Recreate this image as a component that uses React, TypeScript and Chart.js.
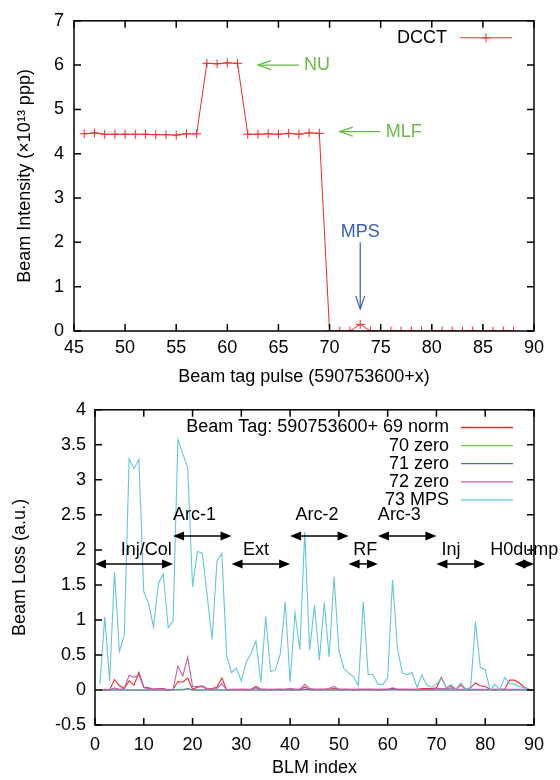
import React, { useEffect, useRef } from "react";
import { Chart, registerables } from "chart.js";
Chart.register(...registerables);

const FONT = "'Liberation Sans', Arial, Helvetica, sans-serif";

// ---------- Top chart data ----------
const pulses = [46, 47, 48, 49, 50, 51, 52, 53, 54, 55, 56, 57, 58, 59, 60, 61, 62, 63, 64, 65, 66, 67, 68, 69,
  70, 71, 72, 73, 74, 75, 76, 77, 78, 79, 80, 81, 82, 83, 84, 85, 86, 87, 88];
const dcct = [4.45, 4.47, 4.44, 4.44, 4.44, 4.44, 4.44, 4.43, 4.43, 4.42, 4.45, 4.45, 6.04, 6.03, 6.05, 6.04,
  4.44, 4.44, 4.45, 4.44, 4.46, 4.44, 4.47, 4.46,
  0, 0, 0, 0.15, 0, 0, 0, 0, 0, 0, 0, 0, 0, 0, 0, 0, 0, 0, 0];

const topNoteText = ["NU", "MLF", "MPS"];
const topNoteX = [67.5, 75.5, 73];
const topNoteY = [6.0, 4.5, 2.23];
const topNoteAlign = ["left", "left", "center"];
const topNoteColor = ["#66bb44", "#66bb44", "#3a5cb8"];
const topArrowFromX = [67, 75, 73];
const topArrowFromY = [6.0, 4.5, 2.0];
const topArrowToX = [63, 71, 73];
const topArrowToY = [6.0, 4.5, 0.5];

// ---------- Bottom chart data ----------
const blmIndex = [1, 2, 3, 4, 5, 6, 7, 8, 9, 10, 11, 12, 13, 14, 15, 16, 17, 18, 19, 20,
  21, 22, 23, 24, 25, 26, 27, 28, 29, 30, 31, 32, 33, 34, 35, 36, 37, 38, 39, 40,
  41, 42, 43, 44, 45, 46, 47, 48, 49, 50, 51, 52, 53, 54, 55, 56, 57, 58, 59, 60,
  61, 62, 63, 64, 65, 66, 67, 68, 69, 70, 71, 72, 73, 74, 75, 76, 77, 78, 79, 80,
  81, 82, 83, 84, 85, 86, 87, 88, 89, 90];
const loss69 = [0, 0.01, 0, 0.15, 0.06, 0.02, 0.13, 0.07, 0.25, 0.04, 0.03, 0.01, 0.02, 0.02, 0, 0.01, 0.12, 0.11, 0.17, 0.01,
  0.04, 0.05, 0.01, 0.02, 0.04, 0.17, 0, 0.01, 0.01, 0.01, 0.01, 0.01, 0.05, 0.01, 0.01, 0.01, 0.01, 0.01, 0.01, 0.01,
  0.01, 0.01, 0.04, 0.01, 0.01, 0.01, 0.01, 0.01, 0.02, 0.01, 0.01, 0.01, 0.01, 0.01, 0.01, 0.01, 0.01, 0.01, 0.01, 0.01,
  0.02, 0.01, 0.01, 0.01, 0.01, 0.01, 0.02, 0.02, 0.02, 0.03, 0.18, 0.03, 0.06, 0.01, 0.07, 0.01, 0.03, 0.1, 0.06, 0.05,
  0.01, 0.01, 0.01, 0.01, 0.14, 0.14, 0.1, 0.04, 0.01, 0];
const loss70 = [0, 0, 0, 0, 0, 0, 0, 0, 0, 0, 0, 0, 0, 0, 0, 0, 0.01, 0.01, 0.01, 0,
  0, 0, 0, 0, 0, 0, 0, 0, 0, 0, 0, 0, 0, 0, 0, 0, 0, 0, 0, 0,
  0, 0, 0, 0, 0, 0, 0, 0, 0, 0, 0, 0, 0, 0, 0, 0, 0, 0, 0, 0,
  0, 0, 0, 0, 0, 0, 0, 0, 0, 0, 0, 0, 0, 0, 0, 0, 0, 0, 0, 0,
  0, 0, 0, 0, 0, 0, 0, 0, 0, 0];
const loss71 = [0, 0, 0, 0, 0, 0, 0, 0, 0, 0, 0, 0, 0, 0, 0, 0, 0, 0, 0.02, 0,
  0, 0, 0, 0, 0, 0, 0, 0, 0, 0, 0, 0, 0, 0, 0, 0, 0, 0, 0, 0,
  0, 0, 0.01, 0, 0, 0, 0, 0, 0, 0, 0, 0, 0, 0, 0, 0, 0, 0, 0, 0,
  0.01, 0, 0, 0, 0, 0, 0, 0, 0, 0, 0, 0, 0, 0, 0, 0, 0, 0, 0, 0,
  0, 0, 0, 0, 0, 0, 0, 0, 0, 0];
const loss72 = [0, 0, 0, 0.03, 0.01, 0.02, 0.21, 0.18, 0.22, 0.03, 0.02, 0.01, 0.02, 0.01, 0, 0.01, 0.34, 0.2, 0.47, 0.05,
  0.05, 0.06, 0.02, 0.01, 0.02, 0.09, 0, 0.01, 0, 0.01, 0, 0.01, 0.03, 0.01, 0.01, 0, 0.01, 0.01, 0.01, 0.02,
  0.01, 0.01, 0.08, 0.02, 0.01, 0.01, 0.01, 0.02, 0.05, 0.01, 0.01, 0.01, 0, 0.01, 0.01, 0.01, 0.01, 0, 0.01, 0.01,
  0.03, 0.01, 0.01, 0.01, 0, 0.01, 0.01, 0.01, 0.01, 0.02, 0.02, 0.02, 0.03, 0.01, 0.01, 0.01, 0.01, 0.01, 0.01, 0.01,
  0.01, 0, 0.01, 0.01, 0.01, 0.01, 0.01, 0.01, 0, 0];
const loss73 = [0.08, 1.04, 0.13, 1.68, 0.55, 0.78, 3.3, 3.16, 3.29, 1.4, 1.23, 0.9, 1.52, 1.66, 0.89, 0.98, 3.58, 3.37, 3.18, 1.47,
  1.98, 1.95, 1.35, 0.72, 1.84, 1.95, 0.48, 0.25, 0.31, 0.13, 0.4, 0.52, 0.7, 0.11, 1.05, 0.26, 0.29, 0.52, 1.26, 0.11,
  1.1, 0.57, 2.26, 0.57, 1.21, 0.43, 1.25, 0.47, 1.62, 0.57, 0.31, 0.24, 0.19, 0.06, 1.26, 0.22, 0.22, 0.08, 0.08, 0.17,
  1.57, 0.6, 0.24, 0.22, 0.25, 0.04, 0.21, 0.07, 0.04, 0.08, 0.17, 0.03, 0.08, 0.01, 0.1, 0.01, 0.03, 0.97, 0.32, 0.29,
  0, 0.08, 0, 0.18, 0.09, 0.08, 0.05, 0.03, 0.01, 0];

const seriesNames = ["Beam Tag: 590753600+ 69 norm", "70 zero", "71 zero", "72 zero", "73 MPS"];
const seriesColors = ["#f02828", "#6cc84a", "#4a6cc0", "#c45cb4", "#62c6da"];
const seriesValues = [loss69, loss70, loss71, loss72, loss73];

const sectionNames = ["Inj/Col", "Arc-1", "Ext", "Arc-2", "RF", "Arc-3", "Inj", "H0dump"];
const sectionStart = [0, 16, 28, 40, 52, 58, 70, 86];
const sectionEnd = [16, 28, 40, 52, 58, 70, 80, 90];
const sectionArrowY = [1.8, 2.2, 1.8, 2.2, 1.8, 2.2, 1.8, 1.8];
const sectionLabelX = [10.5, 20.4, 33, 45.5, 55.4, 62.4, 73, 88];
const sectionLabelY = [2.0, 2.5, 2.0, 2.5, 2.0, 2.5, 2.0, 2.0];

// ---------- helpers ----------
function drawHead(ctx: CanvasRenderingContext2D, tx: number, ty: number, fx: number, fy: number,
  len: number, hw: number, filled: boolean) {
  const a = Math.atan2(ty - fy, tx - fx);
  const bx = tx - len * Math.cos(a);
  const by = ty - len * Math.sin(a);
  const px = -Math.sin(a) * hw;
  const py = Math.cos(a) * hw;
  ctx.beginPath();
  ctx.moveTo(bx + px, by + py);
  ctx.lineTo(tx, ty);
  ctx.lineTo(bx - px, by - py);
  if (filled) {
    ctx.closePath();
    ctx.fill();
  } else {
    ctx.stroke();
  }
}

function framePlugin(tickLen: number) {
  return {
    id: "frame",
    afterDatasetsDraw(chart: any) {
      const { ctx, chartArea: a, scales } = chart;
      ctx.save();
      ctx.strokeStyle = "#000";
      ctx.lineWidth = 1.5;
      ctx.beginPath();
      for (const t of scales.x.ticks) {
        const px = scales.x.getPixelForValue(t.value);
        ctx.moveTo(px, a.bottom);
        ctx.lineTo(px, a.bottom - tickLen);
        ctx.moveTo(px, a.top);
        ctx.lineTo(px, a.top + tickLen);
      }
      for (const t of scales.y.ticks) {
        const py = scales.y.getPixelForValue(t.value);
        ctx.moveTo(a.left, py);
        ctx.lineTo(a.left + tickLen, py);
        ctx.moveTo(a.right, py);
        ctx.lineTo(a.right - tickLen, py);
      }
      ctx.stroke();
      ctx.strokeRect(a.left, a.top, a.right - a.left, a.bottom - a.top);
      ctx.restore();
    },
  };
}

const topNotesPlugin = {
  id: "topNotes",
  afterDatasetsDraw(chart: any) {
    const { ctx, scales, chartArea: a } = chart;
    const x = scales.x;
    const y = scales.y;
    ctx.save();
    ctx.font = `18px ${FONT}`;
    ctx.lineWidth = 1.2;
    for (let i = 0; i < topNoteText.length; i++) {
      ctx.strokeStyle = topNoteColor[i];
      ctx.fillStyle = topNoteColor[i];
      const x1 = x.getPixelForValue(topArrowFromX[i]);
      const y1 = y.getPixelForValue(topArrowFromY[i]);
      const x2 = x.getPixelForValue(topArrowToX[i]);
      const y2 = y.getPixelForValue(topArrowToY[i]);
      ctx.beginPath();
      ctx.moveTo(x1, y1);
      ctx.lineTo(x2, y2);
      ctx.stroke();
      drawHead(ctx, x2, y2, x1, y1, 13, 4.5, false);
      ctx.textAlign = topNoteAlign[i] as CanvasTextAlign;
      ctx.textBaseline = "middle";
      ctx.fillText(topNoteText[i], x.getPixelForValue(topNoteX[i]), y.getPixelForValue(topNoteY[i]));
    }
    // legend
    const ly = a.top + 17;
    const lx1 = a.right - 74;
    const lx2 = a.right - 22;
    ctx.fillStyle = "#000";
    ctx.textAlign = "right";
    ctx.textBaseline = "middle";
    ctx.fillText("DCCT", a.right - 87, ly);
    ctx.strokeStyle = "#f02828";
    ctx.lineWidth = 1;
    ctx.beginPath();
    ctx.moveTo(lx1, ly);
    ctx.lineTo(lx2, ly);
    const cx = (lx1 + lx2) / 2;
    ctx.moveTo(cx - 4.5, ly);
    ctx.lineTo(cx + 4.5, ly);
    ctx.moveTo(cx, ly - 4.5);
    ctx.lineTo(cx, ly + 4.5);
    ctx.stroke();
    ctx.restore();
  },
};

const bottomNotesPlugin = {
  id: "bottomNotes",
  afterDatasetsDraw(chart: any) {
    const { ctx, scales, chartArea: a } = chart;
    const x = scales.x;
    const y = scales.y;
    ctx.save();
    ctx.font = `18px ${FONT}`;
    ctx.strokeStyle = "#000";
    ctx.fillStyle = "#000";
    ctx.lineWidth = 1.5;
    for (let i = 0; i < sectionNames.length; i++) {
      const x1 = x.getPixelForValue(sectionStart[i]);
      const x2 = x.getPixelForValue(sectionEnd[i]);
      const yy = y.getPixelForValue(sectionArrowY[i]);
      ctx.beginPath();
      ctx.moveTo(x1 + 5, yy);
      ctx.lineTo(x2 - 5, yy);
      ctx.stroke();
      drawHead(ctx, x2, yy, x1, yy, 11, 4.5, true);
      drawHead(ctx, x1, yy, x2, yy, 11, 4.5, true);
      ctx.textAlign = "center";
      ctx.textBaseline = "middle";
      ctx.fillText(sectionNames[i], x.getPixelForValue(sectionLabelX[i]), y.getPixelForValue(sectionLabelY[i]));
    }
    // legend
    const lx1 = a.right - 73;
    const lx2 = a.right - 21;
    ctx.textAlign = "right";
    for (let i = 0; i < seriesNames.length; i++) {
      const ly = a.top + 17.7 + i * 18.1;
      ctx.fillStyle = "#000";
      ctx.fillText(seriesNames[i], a.right - 85, ly);
      ctx.strokeStyle = seriesColors[i];
      ctx.lineWidth = 1.3;
      ctx.beginPath();
      ctx.moveTo(lx1, ly);
      ctx.lineTo(lx2, ly);
      ctx.stroke();
    }
    ctx.restore();
  },
};

const tickFont = { family: FONT, size: 18 };
const plainNumber = (v: any) => String(Math.round(Number(v) * 100) / 100);

function makeTopConfig(): any {
  return {
    type: "line",
    data: {
      datasets: [
        {
          label: "DCCT",
          data: pulses.map((p, i) => ({ x: p, y: dcct[i] })),
          borderColor: "#f02828",
          backgroundColor: "#f02828",
          borderWidth: 1,
          pointStyle: "cross",
          pointRadius: 4.5,
          pointBorderWidth: 1,
          pointBorderColor: "#f02828",
          tension: 0,
          clip: 0,
        },
      ],
    },
    options: {
      animation: false,
      responsive: false,
      maintainAspectRatio: false,
      devicePixelRatio: 1,
      layout: { padding: { left: 0, top: 14, right: 26, bottom: 0 } },
      plugins: { legend: { display: false }, tooltip: { enabled: false } },
      scales: {
        x: {
          type: "linear",
          min: 45,
          max: 90,
          ticks: { stepSize: 5, padding: 6, color: "#000", font: tickFont, maxRotation: 0, autoSkip: false, callback: plainNumber },
          grid: { display: false, drawTicks: false },
          border: { display: false },
          title: {
            display: true,
            text: "Beam tag pulse (590753600+x)",
            color: "#000",
            font: tickFont,
            padding: { top: 0, bottom: 2 },
          },
          afterFit: (s: any) => {
            s.height = 59;
          },
        },
        y: {
          type: "linear",
          min: 0,
          max: 7,
          ticks: { stepSize: 1, padding: 10, color: "#000", font: tickFont, callback: plainNumber },
          grid: { display: false, drawTicks: false },
          border: { display: false },
          title: {
            display: true,
            text: "Beam Intensity (×10¹³ ppp)",
            color: "#000",
            font: tickFont,
            padding: { top: 14, bottom: 0 },
          },
          afterFit: (s: any) => {
            s.width = 74;
          },
        },
      },
    },
    plugins: [framePlugin(7), topNotesPlugin],
  };
}

function makeBottomConfig(): any {
  const order = [4, 3, 2, 1, 0];
  return {
    type: "line",
    data: {
      datasets: seriesNames.map((name, k) => ({
        label: name,
        data: blmIndex.map((b, i) => ({ x: b, y: seriesValues[k][i] })),
        borderColor: seriesColors[k],
        backgroundColor: seriesColors[k],
        borderWidth: 1.1,
        pointRadius: 0,
        tension: 0,
        order: order[k],
      })),
    },
    options: {
      animation: false,
      responsive: false,
      maintainAspectRatio: false,
      devicePixelRatio: 1,
      layout: { padding: { left: 0, top: 19, right: 26, bottom: 0 } },
      plugins: { legend: { display: false }, tooltip: { enabled: false } },
      scales: {
        x: {
          type: "linear",
          min: 0,
          max: 90,
          ticks: { stepSize: 10, padding: 9, color: "#000", font: tickFont, maxRotation: 0, autoSkip: false, callback: plainNumber },
          grid: { display: false, drawTicks: false },
          border: { display: false },
          title: {
            display: true,
            text: "BLM index",
            color: "#000",
            font: tickFont,
            padding: { top: 0, bottom: 1 },
          },
          afterFit: (s: any) => {
            s.height = 55;
          },
        },
        y: {
          type: "linear",
          min: -0.5,
          max: 4,
          ticks: { stepSize: 0.5, padding: 9, color: "#000", font: tickFont, callback: plainNumber },
          grid: { display: false, drawTicks: false },
          border: { display: false },
          title: {
            display: true,
            text: "Beam Loss (a.u.)",
            color: "#000",
            font: tickFont,
            padding: { top: 9, bottom: 0 },
          },
          afterFit: (s: any) => {
            s.width = 95;
          },
        },
      },
    },
    plugins: [framePlugin(7), bottomNotesPlugin],
  };
}

export default function App() {
  const topRef = useRef<HTMLCanvasElement>(null);
  const botRef = useRef<HTMLCanvasElement>(null);
  useEffect(() => {
    const c1 = new Chart(topRef.current as HTMLCanvasElement, makeTopConfig());
    const c2 = new Chart(botRef.current as HTMLCanvasElement, makeBottomConfig());
    return () => {
      c1.destroy();
      c2.destroy();
    };
  }, []);
  return (
    <div style={{ position: "absolute", left: 0, top: 0, width: 560, height: 780, background: "#fff" }}>
      <canvas
        ref={topRef}
        width={560}
        height={390}
        style={{ position: "absolute", left: 0, top: 0, width: 560, height: 390 }}
      />
      <canvas
        ref={botRef}
        width={560}
        height={390}
        style={{ position: "absolute", left: 0, top: 390, width: 560, height: 390 }}
      />
    </div>
  );
}
